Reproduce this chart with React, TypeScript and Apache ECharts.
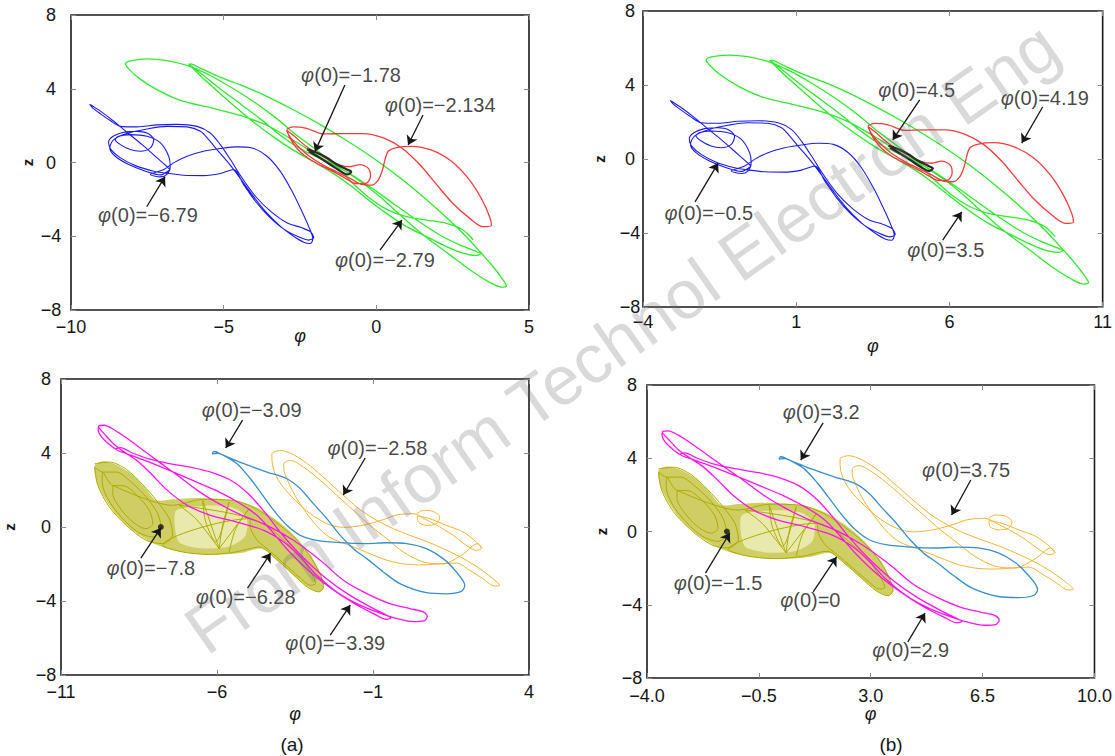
import React, { useEffect, useRef } from "react";
import * as echarts from "echarts";

type P = [number, number];

// ---------------- Panel (a)-top : phi in [-10,5] ----------------
const p1Blue: P[] = [[-6.75,-0.38],[-7.18,0.25],[-7.67,0.97],[-8.17,1.64],[-8.60,2.24],[-8.98,2.72],[-9.31,3.08],[-9.39,3.16],[-9.30,2.98],[-9.04,2.65],[-8.73,2.29],[-8.38,1.96],[-7.84,1.93],[-7.18,2.04],[-6.53,2.07],[-5.87,1.96],[-5.44,1.60],[-5.11,0.97],[-4.78,0.16],[-4.40,-0.83],[-3.96,-1.83],[-3.47,-2.64],[-2.93,-3.27],[-2.44,-3.54],[-2.14,-3.78],[-2.05,-4.08],[-2.22,-4.21],[-2.55,-4.03],[-3.04,-3.60],[-3.53,-2.91],[-3.96,-2.10],[-4.35,-1.19],[-4.67,-0.38],[-5.11,-0.60],[-5.66,-0.71],[-6.31,-0.69],[-6.80,-0.60],[-7.29,-0.47],[-7.89,-0.17],[-8.38,0.25],[-8.69,0.70],[-8.77,1.10],[-8.62,1.42],[-8.27,1.64],[-7.84,1.69],[-7.51,1.60],[-7.29,1.24],[-7.40,0.79],[-7.73,0.61],[-8.06,0.70],[-8.38,0.97],[-8.55,1.24],[-8.44,1.42],[-8.06,1.51],[-7.51,1.42],[-7.07,1.06],[-6.80,0.34],[-6.75,-0.20],[-6.86,-0.65],[-7.07,-0.78],[-7.40,-0.65],[-6.96,-0.38],[-6.64,-0.02],[-6.20,0.34],[-5.66,0.61],[-5.11,0.76],[-4.56,0.85],[-4.07,0.79],[-3.58,0.34],[-3.15,-0.47],[-2.76,-1.56],[-2.44,-2.64],[-2.22,-3.45],[-2.08,-4.14],[-2.16,-4.39],[-2.38,-4.32],[-2.71,-4.00],[-3.15,-3.45],[-3.64,-2.64],[-4.07,-1.74],[-4.51,-0.74],[-4.89,0.07],[-5.22,0.70],[-5.49,1.24],[-5.76,1.69],[-6.20,1.93],[-6.86,1.96],[-7.51,1.82],[-8.17,1.57],[-8.60,1.24],[-8.73,0.79],[-8.55,0.34],[-8.11,-0.11],[-7.56,-0.47],[-7.07,-0.67],[-6.75,-0.38]];

const p1Green: P[] = [[-6.15,5.35],[-6.04,5.21],[-5.66,4.72],[-5.12,4.00],[-4.46,3.19],[-3.81,2.38],[-3.15,1.48],[-2.50,0.76],[-1.74,0.13],[-0.97,-0.50],[-0.21,-1.32],[0.55,-2.22],[1.32,-3.12],[2.08,-3.93],[2.73,-4.47],[3.28,-4.83],[3.41,-4.95],[3.28,-5.05],[2.84,-4.92],[2.30,-4.56],[1.64,-4.02],[0.99,-3.48],[0.33,-2.76],[-0.32,-1.95],[-0.86,-1.23],[-1.41,-0.59],[-2.06,0.04],[-2.72,0.67],[-3.37,1.39],[-4.03,2.20],[-4.68,3.10],[-5.23,3.91],[-5.66,4.54],[-5.99,5.08],[-6.12,5.30],[-6.08,5.35],[-5.77,5.12],[-5.12,4.63],[-4.35,4.14],[-3.59,3.59],[-2.72,2.86],[-1.85,2.07],[-1.08,1.30],[-0.32,0.49],[0.44,-0.41],[1.21,-1.41],[1.97,-2.49],[2.73,-3.66],[3.39,-4.83],[3.82,-5.64],[4.15,-6.36],[4.26,-6.68],[4.10,-6.76],[3.71,-6.50],[3.06,-5.82],[2.41,-5.01],[1.75,-4.20],[1.21,-3.48],[0.66,-2.67],[0.12,-1.86],[-0.43,-1.14],[-1.08,-0.41],[-1.85,0.31],[-2.72,1.21],[-3.59,2.02],[-4.46,2.56],[-5.44,2.97],[-6.42,3.37],[-7.19,3.95],[-7.79,4.59],[-8.11,5.08],[-8.22,5.35],[-8.01,5.53],[-7.51,5.62],[-6.86,5.53],[-6.15,5.24],[-5.44,4.72],[-4.68,4.00],[-3.92,3.19],[-3.26,2.38],[-2.61,1.48],[-1.95,0.67],[-1.30,-0.23],[-0.76,-1.14],[-0.21,-1.95],[0.39,-2.58],[0.99,-2.94],[1.64,-3.12],[2.30,-3.30],[2.84,-3.66],[3.17,-4.20]];

const p1Red: P[] = [[-2.94,1.80],[-2.72,1.93],[-2.28,1.85],[-1.74,1.55],[-1.08,1.57],[-0.43,1.57],[0.23,1.33],[0.83,0.79],[1.42,-0.11],[1.97,-1.19],[2.51,-2.22],[3.06,-3.03],[3.50,-3.48],[3.77,-3.42],[3.71,-2.94],[3.44,-1.95],[3.01,-0.86],[2.46,0.07],[1.81,0.67],[1.15,0.88],[0.66,0.81],[0.39,0.61],[0.28,0.13],[0.20,-0.41],[0.06,-0.95],[-0.16,-1.23],[-0.48,-1.19],[-0.86,-0.86],[-1.30,-0.50],[-1.74,-0.14],[-2.17,0.31],[-2.55,0.85],[-2.83,1.39],[-2.94,1.75],[-2.72,1.48],[-2.28,0.85],[-1.74,0.31],[-1.19,-0.14],[-0.86,-0.23],[-0.54,-0.11],[-0.26,-0.32],[-0.19,-0.74],[-0.34,-1.14],[-0.65,-1.15],[-0.97,-0.90],[-1.30,-0.59],[-1.74,-0.23],[-2.17,0.16],[-2.50,0.58],[-2.72,1.03],[-2.88,1.48]];

const p1Black: P[] = [[-2.27,0.71],[-1.94,0.53],[-1.62,0.26],[-1.29,-0.11],[-0.96,-0.38],[-0.82,-0.50],[-0.94,-0.65],[-1.18,-0.47],[-1.51,-0.11],[-1.89,0.29],[-2.22,0.62]];

// ---------------- Panel (b)-top : phi in [-4,11] ----------------
const p2Blue: P[] = [[-0.47,-0.38],[-0.90,0.25],[-1.39,0.97],[-1.89,1.64],[-2.32,2.24],[-2.70,2.72],[-3.03,3.08],[-3.11,3.16],[-3.02,2.98],[-2.76,2.65],[-2.45,2.29],[-2.10,1.96],[-1.56,1.93],[-0.90,2.04],[-0.25,2.07],[0.41,1.96],[0.84,1.60],[1.17,0.97],[1.50,0.16],[1.88,-0.83],[2.32,-1.83],[2.81,-2.64],[3.35,-3.27],[3.84,-3.54],[4.14,-3.78],[4.23,-4.08],[4.06,-4.21],[3.73,-4.03],[3.24,-3.60],[2.75,-2.91],[2.32,-2.10],[1.93,-1.19],[1.61,-0.38],[1.17,-0.60],[0.62,-0.71],[-0.03,-0.69],[-0.52,-0.60],[-1.01,-0.47],[-1.61,-0.17],[-2.10,0.25],[-2.41,0.70],[-2.49,1.10],[-2.34,1.42],[-1.99,1.64],[-1.56,1.69],[-1.23,1.60],[-1.01,1.24],[-1.12,0.79],[-1.45,0.61],[-1.78,0.70],[-2.10,0.97],[-2.27,1.24],[-2.16,1.42],[-1.78,1.51],[-1.23,1.42],[-0.79,1.06],[-0.52,0.34],[-0.47,-0.20],[-0.58,-0.65],[-0.79,-0.78],[-1.12,-0.65],[-0.68,-0.38],[-0.36,-0.02],[0.08,0.34],[0.62,0.61],[1.17,0.76],[1.72,0.85],[2.21,0.79],[2.70,0.34],[3.13,-0.47],[3.52,-1.56],[3.84,-2.64],[4.06,-3.45],[4.20,-4.14],[4.12,-4.39],[3.90,-4.32],[3.57,-4.00],[3.13,-3.45],[2.64,-2.64],[2.21,-1.74],[1.77,-0.74],[1.39,0.07],[1.06,0.70],[0.79,1.24],[0.52,1.69],[0.08,1.93],[-0.58,1.96],[-1.23,1.82],[-1.89,1.57],[-2.32,1.24],[-2.45,0.79],[-2.27,0.34],[-1.83,-0.11],[-1.28,-0.47],[-0.79,-0.67],[-0.47,-0.38]];

const p2Green: P[] = [[0.13,5.35],[0.24,5.21],[0.62,4.72],[1.16,4.00],[1.82,3.19],[2.47,2.38],[3.13,1.48],[3.78,0.76],[4.54,0.13],[5.31,-0.50],[6.07,-1.32],[6.83,-2.22],[7.60,-3.12],[8.36,-3.93],[9.01,-4.47],[9.56,-4.83],[9.69,-4.95],[9.56,-5.05],[9.12,-4.92],[8.58,-4.56],[7.92,-4.02],[7.27,-3.48],[6.61,-2.76],[5.96,-1.95],[5.42,-1.23],[4.87,-0.59],[4.22,0.04],[3.56,0.67],[2.91,1.39],[2.25,2.20],[1.60,3.10],[1.05,3.91],[0.62,4.54],[0.29,5.08],[0.16,5.30],[0.20,5.35],[0.51,5.12],[1.16,4.63],[1.93,4.14],[2.69,3.59],[3.56,2.86],[4.43,2.07],[5.20,1.30],[5.96,0.49],[6.72,-0.41],[7.49,-1.41],[8.25,-2.49],[9.01,-3.66],[9.67,-4.83],[10.10,-5.64],[10.43,-6.36],[10.54,-6.68],[10.38,-6.76],[9.99,-6.50],[9.34,-5.82],[8.69,-5.01],[8.03,-4.20],[7.49,-3.48],[6.94,-2.67],[6.40,-1.86],[5.85,-1.14],[5.20,-0.41],[4.43,0.31],[3.56,1.21],[2.69,2.02],[1.82,2.56],[0.84,2.97],[-0.14,3.37],[-0.91,3.95],[-1.51,4.59],[-1.83,5.08],[-1.94,5.35],[-1.73,5.53],[-1.23,5.62],[-0.58,5.53],[0.13,5.24],[0.84,4.72],[1.60,4.00],[2.36,3.19],[3.02,2.38],[3.67,1.48],[4.33,0.67],[4.98,-0.23],[5.52,-1.14],[6.07,-1.95],[6.67,-2.58],[7.27,-2.94],[7.92,-3.12],[8.58,-3.30],[9.12,-3.66],[9.45,-4.20]];

const p2Red: P[] = [[3.34,1.80],[3.56,1.93],[4.00,1.85],[4.54,1.55],[5.20,1.57],[5.85,1.57],[6.51,1.33],[7.11,0.79],[7.70,-0.11],[8.25,-1.19],[8.79,-2.22],[9.34,-3.03],[9.78,-3.48],[10.05,-3.42],[9.99,-2.94],[9.72,-1.95],[9.29,-0.86],[8.74,0.07],[8.09,0.67],[7.43,0.88],[6.94,0.81],[6.67,0.61],[6.56,0.13],[6.48,-0.41],[6.34,-0.95],[6.12,-1.23],[5.80,-1.19],[5.42,-0.86],[4.98,-0.50],[4.54,-0.14],[4.11,0.31],[3.73,0.85],[3.45,1.39],[3.34,1.75],[3.56,1.48],[4.00,0.85],[4.54,0.31],[5.09,-0.14],[5.42,-0.23],[5.74,-0.11],[6.02,-0.32],[6.09,-0.74],[5.94,-1.14],[5.63,-1.15],[5.31,-0.90],[4.98,-0.59],[4.54,-0.23],[4.11,0.16],[3.78,0.58],[3.56,1.03],[3.40,1.48]];

const p2Black: P[] = [[4.01,0.71],[4.34,0.53],[4.66,0.26],[4.99,-0.11],[5.32,-0.38],[5.46,-0.50],[5.34,-0.65],[5.10,-0.47],[4.77,-0.11],[4.39,0.29],[4.06,0.62]];

// ---------------- Panel (a)-bottom : phi in [-11,4] ----------------
const p3OliveOutline: P[] = [[-9.92,3.33],[-9.66,3.55],[-9.23,3.37],[-8.75,2.88],[-8.33,2.16],[-7.95,1.44],[-7.42,1.50],[-6.68,1.57],[-5.93,1.53],[-5.29,1.39],[-4.65,0.99],[-4.01,0.27],[-3.48,-0.54],[-3.00,-1.53],[-2.68,-2.52],[-2.58,-3.25],[-2.71,-3.51],[-3.00,-3.33],[-3.48,-2.70],[-4.01,-1.89],[-4.55,-1.17],[-5.18,-1.39],[-6.04,-1.50],[-6.68,-1.46],[-7.42,-1.26],[-8.06,-0.87],[-8.70,-0.18],[-9.23,0.67],[-9.60,1.57],[-9.87,2.52]];

const p3OliveCore: P[] = [[-7.30,0.90],[-6.40,1.15],[-5.50,1.05],[-5.05,0.50],[-5.10,-0.50],[-5.60,-1.05],[-6.50,-1.15],[-7.20,-0.85],[-7.35,0.00]];

const p3OliveLoops: P[] = [[-9.92,3.42],[-9.45,3.51],[-8.91,3.12],[-8.38,2.29],[-7.90,1.35],[-7.53,0.45],[-7.42,-0.45],[-7.74,-0.90],[-8.27,-0.72],[-8.91,0.09],[-9.45,1.08],[-9.82,2.25],[-9.92,3.24],[-9.66,2.97],[-9.23,2.97],[-8.75,2.43],[-8.27,1.62],[-7.90,0.72],[-7.79,-0.09],[-8.06,-0.54],[-8.54,-0.27],[-9.07,0.54],[-9.50,1.53],[-9.68,2.43],[-9.66,2.97],[-9.34,2.25],[-8.97,2.22],[-8.54,1.67],[-8.17,0.90],[-8.06,0.18],[-8.27,-0.09],[-8.70,0.27],[-9.13,1.08],[-9.34,1.80],[-9.34,2.25],[-7.42,1.17],[-6.46,1.49],[-5.50,1.44],[-4.76,0.99],[-4.12,0.27],[-3.48,-0.63],[-3.00,-1.62],[-2.68,-2.61],[-2.58,-3.24],[-2.74,-3.51],[-3.11,-3.24],[-3.59,-2.52],[-4.12,-1.71],[-4.65,-1.08],[-5.40,-1.35],[-6.25,-1.48],[-7.10,-1.35],[-7.74,-0.99],[-4.97,0.45],[-4.44,0.09],[-3.91,-0.63],[-3.37,-1.53],[-3.00,-2.43],[-2.84,-3.06],[-3.00,-3.15],[-3.37,-2.70],[-3.85,-1.98],[-4.33,-1.26],[-4.71,-0.72],[-4.92,-0.09],[-4.97,0.45],[-7.21,1.17],[-6.68,0.45],[-6.25,-0.45],[-5.93,-1.17],[-6.46,1.44],[-6.36,0.27],[-6.04,-0.81],[-5.61,1.35],[-5.82,0.09],[-5.93,-1.17],[-4.97,0.99],[-5.40,-0.09],[-5.61,-1.35]];

const p3Magenta: P[] = [[-9.24,4.24],[-9.10,4.29],[-8.71,4.00],[-8.18,3.68],[-7.54,3.43],[-6.79,3.21],[-6.15,2.94],[-5.52,2.49],[-4.98,1.77],[-4.45,0.76],[-3.92,-0.39],[-3.28,-1.58],[-2.53,-2.74],[-1.79,-3.64],[-1.04,-4.36],[-0.54,-4.79],[-0.43,-4.92],[-0.56,-4.99],[-0.99,-4.68],[-1.63,-4.11],[-2.37,-3.28],[-3.12,-2.27],[-3.76,-1.19],[-4.29,-0.14],[-4.72,0.63],[-5.25,1.26],[-6.00,1.95],[-6.74,2.49],[-7.49,3.03],[-8.21,3.53],[-8.82,3.91],[-9.19,4.15],[-9.46,4.47],[-9.70,4.87],[-9.81,5.26],[-9.79,5.46],[-9.62,5.50],[-9.30,5.26],[-8.87,4.78],[-8.39,4.18],[-7.86,3.52],[-7.27,2.80],[-6.63,1.98],[-5.94,1.26],[-5.20,0.63],[-4.40,0.09],[-3.55,-0.72],[-2.69,-1.80],[-1.95,-2.88],[-1.20,-3.60],[-0.46,-4.14],[0.18,-4.41],[0.61,-4.59],[0.74,-4.83],[0.63,-5.08],[0.29,-5.12],[-0.24,-4.95],[-0.88,-4.59],[-1.52,-4.14],[-2.16,-3.51],[-2.80,-2.61],[-3.33,-1.62],[-3.86,-0.81],[-4.50,-0.18],[-5.36,0.27],[-6.21,0.63],[-6.95,1.17],[-7.59,1.98],[-8.12,2.89],[-8.55,3.57],[-8.98,4.06],[-9.30,4.47],[-9.62,5.05],[-9.81,5.41]];

const p3Blue: P[] = [[-6.10,4.09],[-5.78,3.87],[-5.14,3.42],[-4.40,2.97],[-3.76,2.61],[-3.33,2.07],[-2.91,1.26],[-2.48,0.45],[-2.05,-0.45],[-1.63,-1.17],[-1.20,-1.71],[-0.67,-2.43],[-0.14,-3.06],[0.71,-3.55],[1.35,-3.61],[1.83,-3.48],[1.94,-3.15],[1.67,-2.43],[1.25,-1.71],[0.71,-1.17],[0.08,-0.90],[-0.56,-0.85],[-1.20,-0.90],[-2.05,-0.85],[-2.80,-0.72],[-3.33,-0.45],[-3.76,0.09],[-4.18,0.90],[-4.61,1.89],[-4.93,2.61],[-5.36,3.42],[-5.89,3.96],[-6.10,4.09],[-6.15,3.96],[-5.95,3.98]];

const p3Orange: P[] = [[0.40,0.72],[0.61,0.90],[0.93,0.84],[1.14,0.54],[1.03,0.18],[0.71,0.09],[0.45,0.27],[0.42,0.60],[0.82,0.45],[1.35,0.09],[1.89,-0.27],[2.31,-0.81],[2.47,-1.17],[2.31,-1.26],[1.99,-0.99],[1.57,-0.45],[1.14,0.00],[0.70,0.40],[0.29,0.72],[-0.24,0.65],[-0.67,0.40],[-1.31,0.10],[-1.95,-0.02],[-2.48,0.18],[-3.01,0.72],[-3.49,1.44],[-3.92,2.25],[-4.16,2.97],[-4.24,3.69],[-4.24,3.96],[-3.97,4.14],[-3.55,3.91],[-3.01,3.30],[-2.48,2.52],[-1.95,1.71],[-1.42,0.95],[-0.88,0.36],[-0.35,-0.09],[0.18,-0.45],[0.82,-0.85],[1.35,-1.25],[1.89,-1.70],[2.42,-2.25],[2.84,-2.79],[3.06,-3.15],[2.90,-3.19],[2.52,-2.79],[2.10,-2.34],[1.67,-1.95],[1.20,-1.98],[0.60,-2.05],[0.00,-2.00],[-0.55,-1.80],[-1.10,-1.44],[-1.74,-1.00],[-2.40,-0.55],[-2.80,0.05],[-3.15,0.80],[-3.50,1.70],[-3.74,2.52],[-3.86,3.15],[-3.86,3.42],[-3.65,3.60],[-3.23,3.24],[-2.69,2.52],[-2.16,1.71],[-1.63,0.90],[-1.10,0.09],[-0.56,-0.63],[-0.03,-1.35],[0.61,-1.89],[1.25,-2.00],[1.46,-1.89],[1.90,-1.45],[2.35,-0.90],[2.50,-1.15]];

const p3Dot: P[] = [[-7.8, 0.0]];

// ---------------- Panel (b)-bottom : phi in [-4,10] ----------------
const p4OliveOutline: P[] = [[-3.64,3.33],[-3.38,3.55],[-2.95,3.37],[-2.47,2.88],[-2.05,2.16],[-1.67,1.44],[-1.14,1.50],[-0.40,1.57],[0.35,1.53],[0.99,1.39],[1.63,0.99],[2.27,0.27],[2.80,-0.54],[3.28,-1.53],[3.60,-2.52],[3.70,-3.25],[3.57,-3.51],[3.28,-3.33],[2.80,-2.70],[2.27,-1.89],[1.73,-1.17],[1.10,-1.39],[0.24,-1.50],[-0.40,-1.46],[-1.14,-1.26],[-1.78,-0.87],[-2.42,-0.18],[-2.95,0.67],[-3.32,1.57],[-3.59,2.52]];

const p4OliveCore: P[] = [[-1.02,0.90],[-0.12,1.15],[0.78,1.05],[1.23,0.50],[1.18,-0.50],[0.68,-1.05],[-0.22,-1.15],[-0.92,-0.85],[-1.07,0.00]];

const p4OliveLoops: P[] = [[-3.64,3.42],[-3.17,3.51],[-2.63,3.12],[-2.10,2.29],[-1.62,1.35],[-1.25,0.45],[-1.14,-0.45],[-1.46,-0.90],[-1.99,-0.72],[-2.63,0.09],[-3.17,1.08],[-3.54,2.25],[-3.64,3.24],[-3.38,2.97],[-2.95,2.97],[-2.47,2.43],[-1.99,1.62],[-1.62,0.72],[-1.51,-0.09],[-1.78,-0.54],[-2.26,-0.27],[-2.79,0.54],[-3.22,1.53],[-3.40,2.43],[-3.38,2.97],[-3.06,2.25],[-2.69,2.22],[-2.26,1.67],[-1.89,0.90],[-1.78,0.18],[-1.99,-0.09],[-2.42,0.27],[-2.85,1.08],[-3.06,1.80],[-3.06,2.25],[-1.14,1.17],[-0.18,1.49],[0.78,1.44],[1.52,0.99],[2.16,0.27],[2.80,-0.63],[3.28,-1.62],[3.60,-2.61],[3.70,-3.24],[3.54,-3.51],[3.17,-3.24],[2.69,-2.52],[2.16,-1.71],[1.63,-1.08],[0.88,-1.35],[0.03,-1.48],[-0.82,-1.35],[-1.46,-0.99],[1.31,0.45],[1.84,0.09],[2.37,-0.63],[2.91,-1.53],[3.28,-2.43],[3.44,-3.06],[3.28,-3.15],[2.91,-2.70],[2.43,-1.98],[1.95,-1.26],[1.57,-0.72],[1.36,-0.09],[1.31,0.45],[-0.93,1.17],[-0.40,0.45],[0.03,-0.45],[0.35,-1.17],[-0.18,1.44],[-0.08,0.27],[0.24,-0.81],[0.67,1.35],[0.46,0.09],[0.35,-1.17],[1.31,0.99],[0.88,-0.09],[0.67,-1.35]];

const p4Magenta: P[] = [[-2.96,4.24],[-2.82,4.29],[-2.43,4.00],[-1.90,3.68],[-1.26,3.43],[-0.51,3.21],[0.13,2.94],[0.76,2.49],[1.30,1.77],[1.83,0.76],[2.36,-0.39],[3.00,-1.58],[3.75,-2.74],[4.49,-3.64],[5.24,-4.36],[5.74,-4.79],[5.85,-4.92],[5.72,-4.99],[5.29,-4.68],[4.65,-4.11],[3.91,-3.28],[3.16,-2.27],[2.52,-1.19],[1.99,-0.14],[1.56,0.63],[1.03,1.26],[0.28,1.95],[-0.46,2.49],[-1.21,3.03],[-1.93,3.53],[-2.54,3.91],[-2.91,4.15],[-3.18,4.47],[-3.42,4.87],[-3.53,5.26],[-3.51,5.46],[-3.34,5.50],[-3.02,5.26],[-2.59,4.78],[-2.11,4.18],[-1.58,3.52],[-0.99,2.80],[-0.35,1.98],[0.34,1.26],[1.08,0.63],[1.88,0.09],[2.73,-0.72],[3.59,-1.80],[4.33,-2.88],[5.08,-3.60],[5.82,-4.14],[6.46,-4.41],[6.89,-4.59],[7.02,-4.83],[6.91,-5.08],[6.57,-5.12],[6.04,-4.95],[5.40,-4.59],[4.76,-4.14],[4.12,-3.51],[3.48,-2.61],[2.95,-1.62],[2.42,-0.81],[1.78,-0.18],[0.92,0.27],[0.07,0.63],[-0.67,1.17],[-1.31,1.98],[-1.84,2.89],[-2.27,3.57],[-2.70,4.06],[-3.02,4.47],[-3.34,5.05],[-3.53,5.41]];

const p4Blue: P[] = [[0.18,4.09],[0.50,3.87],[1.14,3.42],[1.88,2.97],[2.52,2.61],[2.95,2.07],[3.37,1.26],[3.80,0.45],[4.23,-0.45],[4.65,-1.17],[5.08,-1.71],[5.61,-2.43],[6.14,-3.06],[6.99,-3.55],[7.63,-3.61],[8.11,-3.48],[8.22,-3.15],[7.95,-2.43],[7.53,-1.71],[6.99,-1.17],[6.36,-0.90],[5.72,-0.85],[5.08,-0.90],[4.23,-0.85],[3.48,-0.72],[2.95,-0.45],[2.52,0.09],[2.10,0.90],[1.67,1.89],[1.35,2.61],[0.92,3.42],[0.39,3.96],[0.18,4.09],[0.13,3.96],[0.33,3.98]];

const p4Orange: P[] = [[6.68,0.72],[6.89,0.90],[7.21,0.84],[7.42,0.54],[7.31,0.18],[6.99,0.09],[6.73,0.27],[6.70,0.60],[7.10,0.45],[7.63,0.09],[8.17,-0.27],[8.59,-0.81],[8.75,-1.17],[8.59,-1.26],[8.27,-0.99],[7.85,-0.45],[7.42,0.00],[6.98,0.40],[6.57,0.72],[6.04,0.65],[5.61,0.40],[4.97,0.10],[4.33,-0.02],[3.80,0.18],[3.27,0.72],[2.79,1.44],[2.36,2.25],[2.12,2.97],[2.04,3.69],[2.04,3.96],[2.31,4.14],[2.73,3.91],[3.27,3.30],[3.80,2.52],[4.33,1.71],[4.86,0.95],[5.40,0.36],[5.93,-0.09],[6.46,-0.45],[7.10,-0.85],[7.63,-1.25],[8.17,-1.70],[8.70,-2.25],[9.12,-2.79],[9.34,-3.15],[9.18,-3.19],[8.80,-2.79],[8.38,-2.34],[7.95,-1.95],[7.48,-1.98],[6.88,-2.05],[6.28,-2.00],[5.73,-1.80],[5.18,-1.44],[4.54,-1.00],[3.88,-0.55],[3.48,0.05],[3.13,0.80],[2.78,1.70],[2.54,2.52],[2.42,3.15],[2.42,3.42],[2.63,3.60],[3.05,3.24],[3.59,2.52],[4.12,1.71],[4.65,0.90],[5.18,0.09],[5.72,-0.63],[6.25,-1.35],[6.89,-1.89],[7.53,-2.00],[7.74,-1.89],[8.18,-1.45],[8.63,-0.90],[8.78,-1.15]];

const p4Dot: P[] = [[-1.5, 0.0]];

// ---------------- annotations: [value text, label phi, label z, arrow from phi, from z, to phi, to z]
type Ann = [string, number, number, number, number, number, number];
const ann1: Ann[] = [
  ["\u22126.79", -7.48, -2.85, -7.52, -2.40, -6.92, -0.77],
  ["\u22121.78", -0.83, 4.75, -1.03, 4.20, -2.01, 0.59],
  ["\u22122.134", 2.09, 3.12, 1.53, 2.58, 1.04, 0.95],
  ["\u22122.79", 0.28, -5.29, 0.12, -4.75, 0.84, -3.12],
];
const ann2: Ann[] = [
  ["\u22120.5", -1.85, -2.92, -2.30, -2.32, -1.55, -0.22],
  ["4.5", 4.93, 3.73, 5.03, 3.20, 4.15, 1.03],
  ["4.19", 9.11, 3.30, 9.04, 2.81, 8.36, 0.86],
  ["3.5", 5.88, -4.92, 5.78, -4.38, 6.40, -2.86],
];
const ann3: Ann[] = [
  ["\u22123.09", -4.89, 6.32, -5.18, 5.78, -5.72, 4.27],
  ["\u22122.58", -0.86, 4.27, -1.25, 3.73, -1.95, 1.73],
  ["\u22127.8", -8.12, -2.22, -8.44, -1.68, -7.80, -0.05],
  ["\u22126.28", -5.08, -3.78, -5.02, -3.30, -4.28, -1.41],
  ["\u22123.39", -2.21, -6.27, -2.37, -5.84, -1.73, -4.22],
];
const ann4: Ann[] = [
  ["3.2", 1.45, 6.53, 1.51, 5.93, 0.81, 3.90],
  ["3.75", 5.98, 3.36, 6.13, 2.81, 5.53, 0.90],
  ["\u22121.5", -1.78, -2.81, -2.17, -2.27, -1.41, -0.08],
  ["0", 1.11, -3.74, 1.20, -3.30, 1.93, -1.39],
  ["2.9", 4.25, -6.47, 4.16, -6.03, 4.70, -4.45],
];

// ---------------- layout (positions / styles only) ----------------
const FONT = '"Liberation Sans", Arial, Helvetica, sans-serif';
const TXT = "#161616";

const fmtInt = (v: number) => (v < 0 ? "\u2212" + Math.abs(v) : String(v));
const fmtOne = (v: number) => (v < -1e-9 ? "\u2212" + Math.abs(v).toFixed(1) : Math.abs(v).toFixed(1));

const panels = [
  { grid: { left: 71, top: 15, width: 458, height: 295 }, xMin: -10, xMax: 5, xInt: 5, xFmt: fmtInt, xLabelMargin: 8, xNameGap: 17, yLabelMargin: 20, yNameGap: 36 },
  { grid: { left: 643, top: 11, width: 460, height: 296 }, xMin: -4, xMax: 11, xInt: 5, xFmt: fmtInt, xLabelMargin: 6, xNameGap: 30, yLabelMargin: 13, yNameGap: 36 },
  { grid: { left: 61, top: 379, width: 468, height: 296 }, xMin: -11, xMax: 4, xInt: 5, xFmt: fmtInt, xLabelMargin: 8, xNameGap: 30, yLabelMargin: 15, yNameGap: 44 },
  { grid: { left: 647, top: 385, width: 460, height: 293 }, xMin: -4, xMax: 10, xInt: 3.5, xFmt: fmtOne, xLabelMargin: 9, xNameGap: 27, yLabelMargin: 15, yNameGap: 38 },
];

const COL = {
  blue: "#1c1cf0",
  green: "#30e830",
  red: "#f23c3c",
  black: "#2a2a2a",
  olive: "#acac00",
  oliveFill: "rgba(176,176,6,0.62)",
  oliveCore: "rgba(255,255,235,0.55)",
  magenta: "#ff14f0",
  steel: "#3b8dcc",
  orange: "#f1b335",
};

function buildOption() {
  const grid: any[] = [];
  const xAxis: any[] = [];
  const yAxis: any[] = [];
  const tick = { show: true, inside: true, length: 5, lineStyle: { color: "#8a8a8a", width: 1 } };
  const noLine = { show: false, onZero: false };

  panels.forEach((p, i) => {
    grid.push({ ...p.grid, show: true, borderColor: "#1a1a1a", borderWidth: 1.6, backgroundColor: "transparent", containLabel: false });
    xAxis.push({
      type: "value", gridIndex: i, min: p.xMin, max: p.xMax, interval: p.xInt, position: "bottom",
      axisLine: noLine, axisTick: tick, splitLine: { show: false },
      axisLabel: { margin: p.xLabelMargin, color: TXT, fontSize: 18, fontFamily: FONT, formatter: p.xFmt },
      name: "\u03c6", nameLocation: "middle", nameGap: p.xNameGap, nameMoveOverlap: false,
      nameTextStyle: { fontStyle: "italic", fontSize: 18, color: TXT, fontFamily: FONT },
    });
    xAxis.push({
      type: "value", gridIndex: i, min: p.xMin, max: p.xMax, interval: p.xInt, position: "top",
      axisLine: noLine, axisTick: tick, splitLine: { show: false }, axisLabel: { show: false },
    });
    yAxis.push({
      type: "value", gridIndex: i, min: -8, max: 8, interval: 4, position: "left",
      axisLine: noLine, axisTick: tick, splitLine: { show: false },
      axisLabel: { margin: p.yLabelMargin, align: "center", color: TXT, fontSize: 18, fontFamily: FONT, formatter: fmtInt },
      name: "z", nameLocation: "middle", nameGap: p.yNameGap, nameMoveOverlap: false,
      nameTextStyle: { fontSize: 15, fontWeight: "bold", color: TXT, fontFamily: FONT },
    });
    yAxis.push({
      type: "value", gridIndex: i, min: -8, max: 8, interval: 4, position: "right",
      axisLine: noLine, axisTick: tick, splitLine: { show: false }, axisLabel: { show: false },
    });
  });

  const series: any[] = [];
  const addLine = (g: number, data: P[], color: string, width: number, z: number) => {
    series.push({
      type: "line", xAxisIndex: 2 * g, yAxisIndex: 2 * g, data, symbol: "none", showSymbol: false,
      smooth: 0.3, lineStyle: { color, width }, z, silent: true,
    });
  };
  const addFill = (g: number, outline: P[], color: string, z: number) => {
    series.push({
      type: "custom", coordinateSystem: "cartesian2d", xAxisIndex: 2 * g, yAxisIndex: 2 * g,
      data: [outline[0]], silent: true, z,
      renderItem: (_params: any, api: any) => ({
        type: "polygon",
        shape: { points: outline.map((pt) => api.coord(pt)), smooth: 0.25 },
        style: { fill: color, stroke: "none" },
      }),
    });
  };
  const addDot = (g: number, data: P[]) => {
    series.push({
      type: "scatter", xAxisIndex: 2 * g, yAxisIndex: 2 * g, data, symbol: "circle", symbolSize: 6,
      itemStyle: { color: "#111" }, z: 15, silent: true,
    });
  };
  const addAnn = (g: number, ann: Ann[]) => {
    series.push({
      type: "scatter", xAxisIndex: 2 * g, yAxisIndex: 2 * g, silent: true, z: 20,
      data: ann.map((a) => [a[1], a[2], a[0]]),
      symbol: "circle", symbolSize: 1, itemStyle: { color: "rgba(0,0,0,0)" },
      label: {
        show: true, position: "inside",
        formatter: (p: any) => "{i|\u03c6}{t|(0)=" + p.data[2] + "}",
        rich: {
          i: { fontStyle: "italic", fontSize: 20, fontFamily: FONT, color: TXT },
          t: { fontSize: 20, fontFamily: FONT, color: TXT },
        },
      },
      markLine: {
        silent: true, symbol: ["none", "arrow"], symbolSize: 9, animation: false,
        label: { show: false },
        lineStyle: { color: TXT, width: 1.3, type: "solid" },
        emphasis: { disabled: true },
        data: ann.map((a) => [{ coord: [a[3], a[4]] }, { coord: [a[5], a[6]] }]),
      },
    });
  };

  // panel 1
  addLine(0, p1Green, COL.green, 1.3, 2);
  addLine(0, p1Blue, COL.blue, 1.1, 3);
  addLine(0, p1Red, COL.red, 1.3, 4);
  addLine(0, p1Black, COL.black, 2.2, 5);
  addAnn(0, ann1);
  // panel 2
  addLine(1, p2Green, COL.green, 1.3, 2);
  addLine(1, p2Blue, COL.blue, 1.1, 3);
  addLine(1, p2Red, COL.red, 1.3, 4);
  addLine(1, p2Black, COL.black, 2.2, 5);
  addAnn(1, ann2);
  // panel 3
  addFill(2, p3OliveOutline, COL.oliveFill, 1);
  addFill(2, p3OliveCore, COL.oliveCore, 2);
  addLine(2, p3OliveLoops, COL.olive, 1.0, 3);
  addLine(2, p3Orange, COL.orange, 1.0, 4);
  addLine(2, p3Blue, COL.steel, 1.3, 5);
  addLine(2, p3Magenta, COL.magenta, 1.3, 6);
  addDot(2, p3Dot);
  addAnn(2, ann3);
  // panel 4
  addFill(3, p4OliveOutline, COL.oliveFill, 1);
  addFill(3, p4OliveCore, COL.oliveCore, 2);
  addLine(3, p4OliveLoops, COL.olive, 1.0, 3);
  addLine(3, p4Orange, COL.orange, 1.0, 4);
  addLine(3, p4Blue, COL.steel, 1.3, 5);
  addLine(3, p4Magenta, COL.magenta, 1.3, 6);
  addDot(3, p4Dot);
  addAnn(3, ann4);

  const graphic: any[] = [
    {
      type: "text", x: 292, y: 744, silent: true,
      style: { text: "(a)", fontSize: 19, fontFamily: FONT, fill: TXT, textAlign: "center", textVerticalAlign: "middle" },
    },
    {
      type: "text", x: 891, y: 744, silent: true,
      style: { text: "(b)", fontSize: 19, fontFamily: FONT, fill: TXT, textAlign: "center", textVerticalAlign: "middle" },
    },
    {
      type: "text", x: 622, y: 338, rotation: 0.61, z: 100, silent: true,
      style: {
        text: "From Inform Technol Electron Eng", fontSize: 69, fontFamily: FONT,
        fill: "rgba(110,110,110,0.26)", textAlign: "center", textVerticalAlign: "middle",
      },
    },
  ];

  return {
    animation: false,
    backgroundColor: "#ffffff",
    textStyle: { fontFamily: FONT },
    grid, xAxis, yAxis, series, graphic,
  };
}

export default function App() {
  const ref = useRef<HTMLDivElement>(null);
  useEffect(() => {
    if (!ref.current) return;
    const chart = echarts.init(ref.current, undefined, { renderer: "svg" });
    chart.setOption(buildOption() as any);
    return () => chart.dispose();
  }, []);
  return <div ref={ref} style={{ position: "absolute", left: 0, top: 0, width: 1115, height: 756 }} />;
}
